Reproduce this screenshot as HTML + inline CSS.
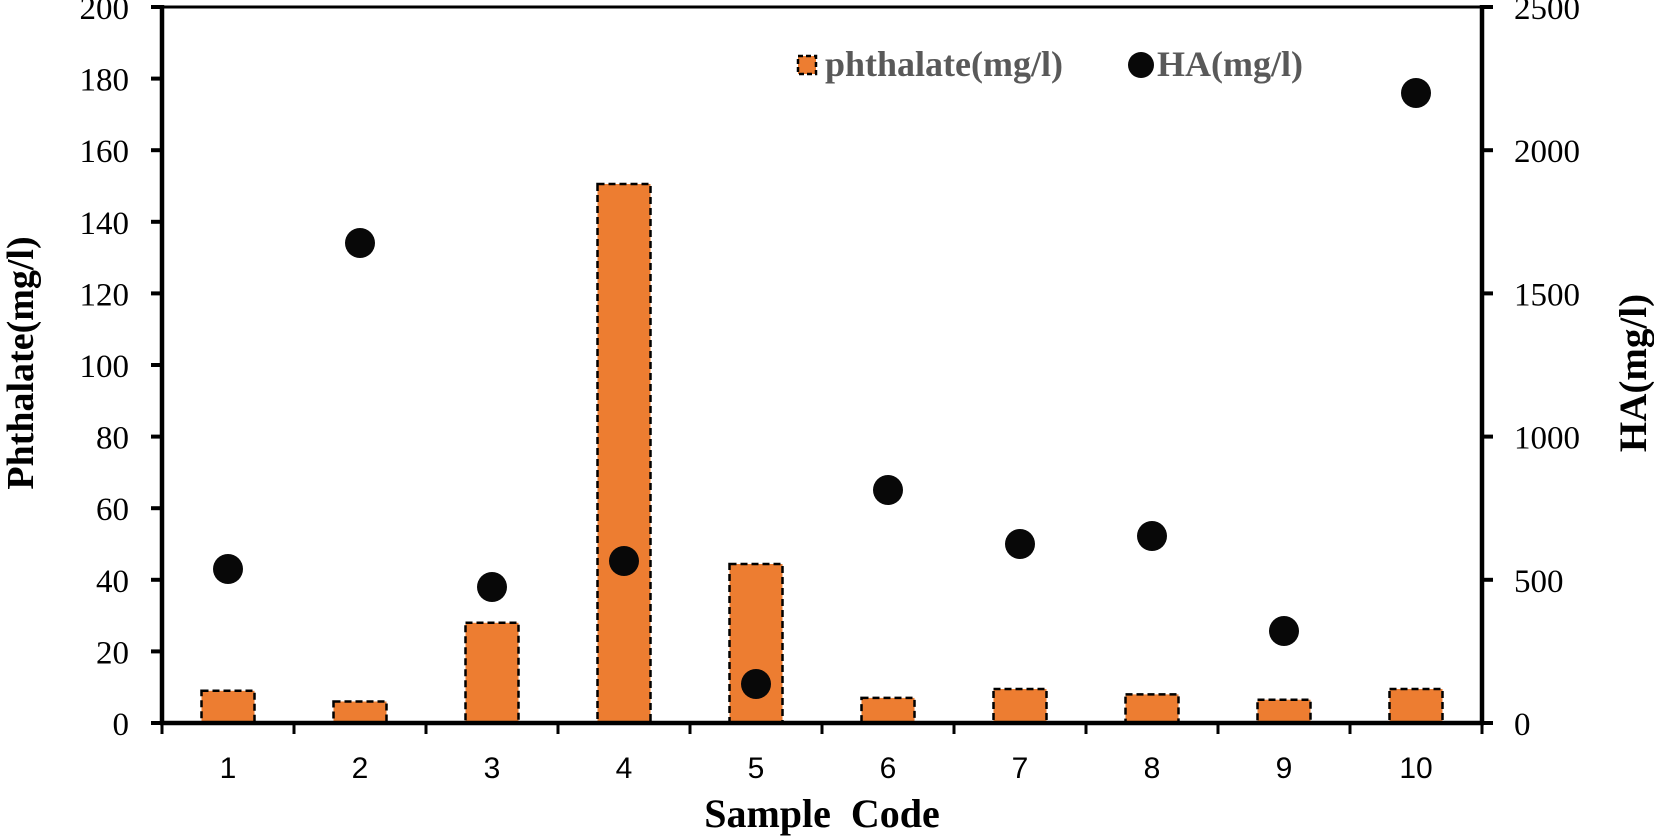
<!DOCTYPE html>
<html><head><meta charset="utf-8"><style>html,body{margin:0;padding:0;background:#fff}svg{display:block}</style></head>
<body>
<svg width="1654" height="836" viewBox="0 0 1654 836" xmlns="http://www.w3.org/2000/svg">
<g id="bars" fill="#ED7D31" stroke="#000" stroke-width="2.5" stroke-dasharray="7,4">
<rect x="201.5" y="690.8" width="53" height="32.2"/>
<rect x="333.5" y="701.5" width="53" height="21.5"/>
<rect x="465.5" y="622.8" width="53" height="100.2"/>
<rect x="597.5" y="184" width="53" height="539"/>
<rect x="729.5" y="564" width="53" height="159"/>
<rect x="861.5" y="697.9" width="53" height="25.1"/>
<rect x="993.5" y="689" width="53" height="34"/>
<rect x="1125.5" y="694.4" width="53" height="28.6"/>
<rect x="1257.5" y="699.7" width="53" height="23.3"/>
<rect x="1389.5" y="689" width="53" height="34"/>
</g>
<g fill="#080808">
<circle cx="228" cy="569" r="15"/>
<circle cx="360" cy="243" r="15"/>
<circle cx="492" cy="587" r="15"/>
<circle cx="624" cy="561" r="15"/>
<circle cx="756" cy="684" r="15"/>
<circle cx="888" cy="490" r="15"/>
<circle cx="1020" cy="544" r="15"/>
<circle cx="1152" cy="536" r="15"/>
<circle cx="1284" cy="631" r="15"/>
<circle cx="1416" cy="93" r="15"/>
</g>
<g stroke="#000">
<line x1="162" y1="7" x2="1482" y2="7" stroke-width="3"/>
<line x1="162" y1="5" x2="162" y2="725" stroke-width="4.5"/>
<line x1="1482" y1="5" x2="1482" y2="725" stroke-width="4.5"/>
<line x1="160" y1="723" x2="1484" y2="723" stroke-width="4.5"/>
<g stroke-width="4">
<line x1="151" y1="7" x2="162" y2="7"/><line x1="151" y1="78.6" x2="162" y2="78.6"/><line x1="151" y1="150.2" x2="162" y2="150.2"/><line x1="151" y1="221.8" x2="162" y2="221.8"/><line x1="151" y1="293.4" x2="162" y2="293.4"/><line x1="151" y1="365" x2="162" y2="365"/><line x1="151" y1="436.6" x2="162" y2="436.6"/><line x1="151" y1="508.2" x2="162" y2="508.2"/><line x1="151" y1="579.8" x2="162" y2="579.8"/><line x1="151" y1="651.4" x2="162" y2="651.4"/><line x1="151" y1="723" x2="162" y2="723"/>
<line x1="1482" y1="7" x2="1493" y2="7"/><line x1="1482" y1="150.2" x2="1493" y2="150.2"/><line x1="1482" y1="293.4" x2="1493" y2="293.4"/><line x1="1482" y1="436.6" x2="1493" y2="436.6"/><line x1="1482" y1="579.8" x2="1493" y2="579.8"/><line x1="1482" y1="723" x2="1493" y2="723"/>
</g>
<g stroke-width="3">
<line x1="162" y1="723" x2="162" y2="734"/><line x1="294" y1="723" x2="294" y2="734"/><line x1="426" y1="723" x2="426" y2="734"/><line x1="558" y1="723" x2="558" y2="734"/><line x1="690" y1="723" x2="690" y2="734"/><line x1="822" y1="723" x2="822" y2="734"/><line x1="954" y1="723" x2="954" y2="734"/><line x1="1086" y1="723" x2="1086" y2="734"/><line x1="1218" y1="723" x2="1218" y2="734"/><line x1="1350" y1="723" x2="1350" y2="734"/><line x1="1482" y1="723" x2="1482" y2="734"/>
</g>
</g>
<g font-family="Liberation Serif, serif" font-size="33" fill="#000" text-anchor="end">
<text x="129" y="19">200</text><text x="129" y="90.6">180</text><text x="129" y="162.2">160</text><text x="129" y="233.8">140</text><text x="129" y="305.4">120</text><text x="129" y="377">100</text><text x="129" y="448.6">80</text><text x="129" y="520.2">60</text><text x="129" y="591.8">40</text><text x="129" y="663.4">20</text><text x="129" y="735">0</text>
</g>
<g font-family="Liberation Serif, serif" font-size="33" fill="#000" text-anchor="start">
<text x="1514" y="19">2500</text><text x="1514" y="162.2">2000</text><text x="1514" y="305.4">1500</text><text x="1514" y="448.6">1000</text><text x="1514" y="591.8">500</text><text x="1514" y="735">0</text>
</g>
<g font-family="Liberation Sans, sans-serif" font-size="30" fill="#000" text-anchor="middle">
<text x="228" y="778">1</text><text x="360" y="778">2</text><text x="492" y="778">3</text><text x="624" y="778">4</text><text x="756" y="778">5</text><text x="888" y="778">6</text><text x="1020" y="778">7</text><text x="1152" y="778">8</text><text x="1284" y="778">9</text><text x="1416" y="778">10</text>
</g>
<text x="822" y="827" font-family="Liberation Serif, serif" font-weight="bold" font-size="40" text-anchor="middle" xml:space="preserve">Sample  Code</text>
<text transform="translate(33,363) rotate(-90)" font-family="Liberation Serif, serif" font-weight="bold" font-size="38" text-anchor="middle">Phthalate(mg/l)</text>
<text transform="translate(1646,373) rotate(-90)" font-family="Liberation Serif, serif" font-weight="bold" font-size="39" text-anchor="middle">HA(mg/l)</text>
<rect x="798" y="56" width="18" height="18" fill="#ED7D31" stroke="#000" stroke-width="2.5" stroke-dasharray="5,3"/>
<text x="825" y="76" font-family="Liberation Serif, serif" font-weight="bold" font-size="36" fill="#595959">phthalate(mg/l)</text>
<circle cx="1141" cy="65" r="13" fill="#080808"/>
<text x="1157" y="76" font-family="Liberation Serif, serif" font-weight="bold" font-size="36" fill="#595959">HA(mg/l)</text>
</svg>
</body></html>
